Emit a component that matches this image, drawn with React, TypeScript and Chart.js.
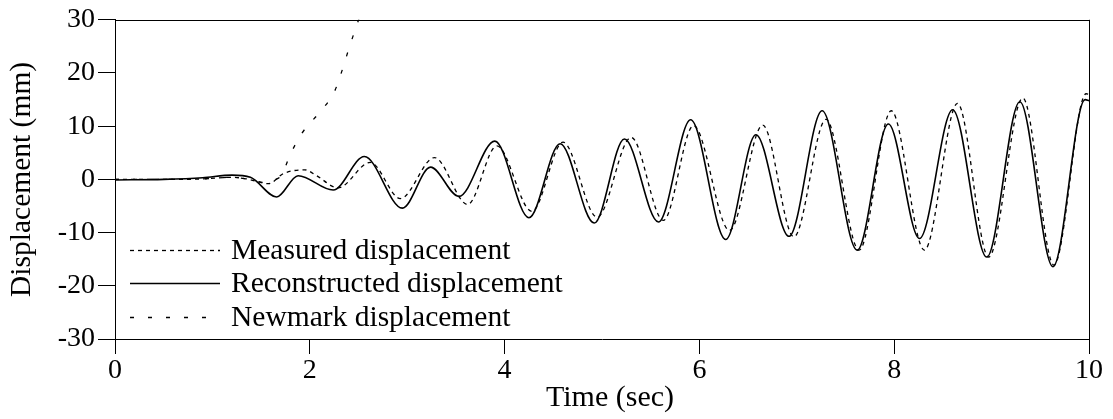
import React, { useEffect, useRef } from "react";
import { Chart, registerables } from "chart.js";

Chart.register(...registerables);

// ---- data ----
const reconTime = [0, 0.5, 0.9, 1.2, 1.39, 1.66, 1.88, 2.24, 2.56, 2.95, 3.24, 3.53, 3.9, 4.25, 4.57, 4.92, 5.23, 5.58, 5.91, 6.27, 6.58, 6.92, 7.26, 7.62, 7.94, 8.26, 8.6, 8.95, 9.29, 9.63, 9.96, 10.0];
const reconDisp = [-0.1, 0, 0.3, 0.8, 0.4, -3.3, 0.7, -2.0, 4.3, -5.4, 2.3, -3.2, 7.2, -7.2, 6.7, -8.2, 7.6, -8.0, 11.2, -11.3, 8.4, -10.7, 12.9, -13.3, 10.4, -11.1, 13.1, -14.6, 14.6, -16.4, 15.0, 14.8];

const measTime = [0, 0.5, 0.9, 1.2, 1.35, 1.58, 1.73, 1.95, 2.07, 2.29, 2.62, 2.93, 3.28, 3.62, 3.92, 4.28, 4.6, 4.95, 5.3, 5.63, 5.94, 6.31, 6.65, 6.97, 7.3, 7.64, 7.97, 8.31, 8.65, 8.97, 9.32, 9.64, 9.97, 10.0];
const measDisp = [0, 0, 0.1, 0.4, 0.1, -0.8, 1.1, 1.8, 0.7, -1.6, 3.2, -3.6, 4.1, -4.7, 6.3, -6.0, 7.0, -7.1, 7.9, -7.7, 10.1, -9.6, 10.2, -10.8, 11.3, -13.3, 12.9, -13.3, 14.3, -14.6, 15.3, -16.1, 16.1, 16.0];

const newmarkTime = [0, 0.5, 0.9, 1.2, 1.35, 1.55, 1.65, 1.71, 1.8, 1.92, 2.1, 2.25, 2.33, 2.4, 2.48, 2.52];
const newmarkDisp = [0, 0, 0.1, 0.4, 0.1, -0.6, 0.0, 0.8, 4.7, 8.7, 12.6, 16.4, 20.4, 24.5, 28.9, 31.0];

const xTicks = [0, 2, 4, 6, 8, 10];
const yTicks = [-30, -20, -10, 0, 10, 20, 30];

const seriesLabels = ["Measured displacement", "Reconstructed displacement", "Newmark displacement"];
const xTitle = "Time (sec)";
const yTitle = "Displacement (mm)";

const FONT = '"Liberation Serif", "Times New Roman", Times, serif';

const toPoints = (t: number[], v: number[]) => t.map((x, i) => ({ x, y: v[i] }));

const frameAndLegend = {
  id: "frameAndLegend",
  afterDraw(chart: any) {
    const { ctx, chartArea } = chart;
    const { left, top, right, bottom } = chartArea;
    ctx.save();
    ctx.strokeStyle = "#000";
    ctx.lineWidth = 1;
    ctx.setLineDash([]);
    ctx.beginPath();
    ctx.moveTo(left, Math.round(top) + 0.5);
    ctx.lineTo(right, Math.round(top) + 0.5);
    ctx.moveTo(Math.round(right) + 0.5, top);
    ctx.lineTo(Math.round(right) + 0.5, bottom);
    ctx.stroke();

    // x-axis title
    ctx.fillStyle = "#000";
    ctx.font = `30px ${FONT}`;
    ctx.textAlign = "center";
    ctx.textBaseline = "alphabetic";
    ctx.fillText(xTitle, (left + right) / 2 + 8, bottom + 67);

    // legend inside the plot, lower left
    const rows = [bottom - 89, bottom - 56, bottom - 22];
    chart.data.datasets.forEach((ds: any, i: number) => {
      const y = rows[i];
      ctx.strokeStyle = "#000";
      ctx.lineWidth = ds.borderWidth;
      ctx.setLineDash(ds.borderDash || []);
      ctx.beginPath();
      ctx.moveTo(left + 15, y + 0.5);
      ctx.lineTo(left + 105, y + 0.5);
      ctx.stroke();
      ctx.setLineDash([]);
      ctx.fillStyle = "#000";
      ctx.font = `29.5px ${FONT}`;
      ctx.textAlign = "left";
      ctx.textBaseline = "middle";
      ctx.fillText(ds.label, left + 116, y + 1);
    });
    ctx.restore();
  },
};

export default function App() {
  const canvasRef = useRef<HTMLCanvasElement | null>(null);

  useEffect(() => {
    if (!canvasRef.current) return;
    const chart = new Chart(canvasRef.current, {
      type: "line",
      data: {
        datasets: [
          {
            label: seriesLabels[0],
            data: toPoints(measTime, measDisp),
            borderColor: "#000",
            borderWidth: 1.3,
            borderDash: [4, 4],
            pointRadius: 0,
            fill: false,
            cubicInterpolationMode: "monotone",
          },
          {
            label: seriesLabels[1],
            data: toPoints(reconTime, reconDisp),
            borderColor: "#000",
            borderWidth: 1.6,
            pointRadius: 0,
            fill: false,
            cubicInterpolationMode: "monotone",
          },
          {
            label: seriesLabels[2],
            data: toPoints(newmarkTime, newmarkDisp),
            borderColor: "#000",
            borderWidth: 1.3,
            borderDash: [4, 14],
            pointRadius: 0,
            fill: false,
            cubicInterpolationMode: "monotone",
          },
        ],
      },
      options: {
        animation: false,
        responsive: true,
        maintainAspectRatio: false,
        layout: { padding: { top: 19, right: 24, left: 0, bottom: 0 } },
        plugins: {
          legend: { display: false },
          tooltip: { enabled: false },
        },
        scales: {
          x: {
            type: "linear",
            min: 0,
            max: 10,
            afterBuildTicks: (s: any) => {
              s.ticks = xTicks.map((v) => ({ value: v }));
            },
            afterFit: (s: any) => {
              s.height = 80;
            },
            grid: {
              drawOnChartArea: false,
              drawTicks: true,
              tickLength: 15,
              tickColor: "#000",
              color: "#000",
            },
            border: { display: true, color: "#000", width: 1 },
            ticks: {
              color: "#000",
              padding: 0,
              maxRotation: 0,
              font: { family: FONT, size: 28 },
            },
            title: { display: false },
          },
          y: {
            type: "linear",
            min: -30,
            max: 30,
            afterBuildTicks: (s: any) => {
              s.ticks = yTicks.map((v) => ({ value: v }));
            },
            afterFit: (s: any) => {
              s.width = 115;
            },
            grid: {
              drawOnChartArea: false,
              drawTicks: true,
              tickLength: 17,
              tickColor: "#000",
              color: "#000",
            },
            border: { display: true, color: "#000", width: 1 },
            ticks: {
              color: "#000",
              padding: 3,
              font: { family: FONT, size: 28 },
            },
            title: {
              display: true,
              text: yTitle,
              color: "#000",
              font: { family: FONT, size: 29.5 },
              padding: { top: 5, bottom: 0 },
            },
          },
        },
      },
      plugins: [frameAndLegend],
    } as any);
    return () => chart.destroy();
  }, []);

  return (
    <div style={{ position: "absolute", left: 0, top: 0, width: 1113, height: 419, background: "#fff" }}>
      <canvas ref={canvasRef} />
    </div>
  );
}
